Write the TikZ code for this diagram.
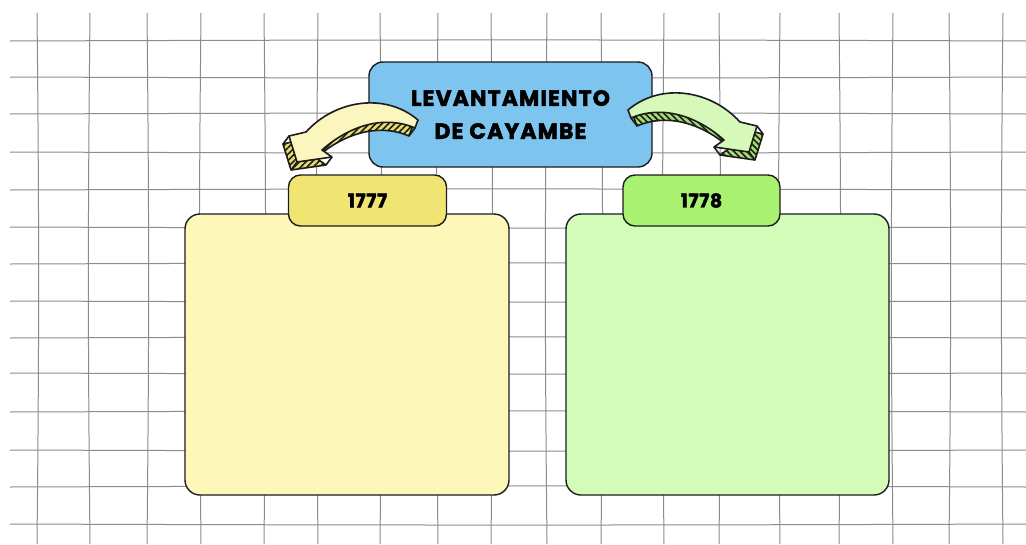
\documentclass[tikz,border=0pt]{standalone}
\usepackage{fontspec}
\newfontfamily\headfont{Poppins}[LetterSpace=5, FakeBold=2.2]
\newfontfamily\yearfont{Poppins}[LetterSpace=3, FakeBold=2]
\usetikzlibrary{patterns.meta}

\definecolor{titleblue}{HTML}{7DC4EE}
\definecolor{tabyellow}{HTML}{F0E473}
\definecolor{boxyellow}{HTML}{FDF7B9}
\definecolor{tabgreen}{HTML}{A9F170}
\definecolor{boxgreen}{HTML}{D3FCB9}
\definecolor{faceyellow}{HTML}{FBF5BE}
\definecolor{sideyellow}{HTML}{E9DD6C}
\definecolor{facegreen}{HTML}{D6F9BA}
\definecolor{sidegreen}{HTML}{A6DE6E}
\definecolor{gridgray}{HTML}{8C8C8C}
\definecolor{inkline}{HTML}{1C1C1C}

\tikzset{
  gridline/.style={draw=gridgray, line width=1pt},
  boxline/.style={draw=inkline, line width=1.4pt},
  bigbox/.style={boxline, rectangle, rounded corners=15pt, minimum width=324pt, minimum height=281pt},
  tab/.style={boxline, rectangle, rounded corners=12pt, minimum width=158pt, minimum height=51pt,
    font=\yearfont\bfseries\fontsize{19}{19}\selectfont},
  titlebox/.style={boxline, rectangle, rounded corners=14pt, fill=titleblue, minimum width=283pt,
    minimum height=105pt, align=center, font=\headfont\bfseries\fontsize{22}{33}\selectfont},
  armline/.style={draw=inkline, line width=1.6pt, line join=round},
  pics/curvearrow/.style n args={3}{code={
    % side of the arrow, hatched
    \draw[armline, preaction={fill=#2}, pattern={Lines[angle=#3, distance=4.5pt, line width=1.6pt]},
      pattern color=inkline, shift={(-6,8)}]
      (0,0) .. controls (-33,-28) and (-83,-20) .. (-112,12) -- (-129,16) -- (-121,42)
      -- (-86,37) -- (-96,30) .. controls (-68,5) and (-33,-5) .. (-3,8) -- cycle;
    \draw[armline] (0,0) -- ++(-6,8) (-3,8) -- ++(-6,8) (-129,16) -- ++(-6,8)
      (-121,42) -- ++(-6,8) (-86,37) -- ++(-6,8);
    % top face
    \draw[armline, fill=#1]
      (0,0) .. controls (-33,-28) and (-83,-20) .. (-112,12) -- (-129,16) -- (-121,42)
      -- (-86,37) -- (-96,30) .. controls (-68,5) and (-33,-5) .. (-3,8) -- cycle;
  }}
}

\begin{document}
\begin{tikzpicture}[x=1pt, y=-1pt]
  \useasboundingbox[fill=white] (0,0) rectangle (1026,544);

  % grid paper
  \foreach \x/\b in {37/0.6, 90/-0.6, 147/0.6, 201/-0.6, 264/0.6, 318/-0.6, 380/0.6, 438/-0.6, 491/0.6,
                     547/-0.6, 601/0.6, 664/-0.6, 719/0.6, 780/-0.6, 839/0.6, 893/-0.6, 949/0.6, 1003/-0.6}
    \draw[gridline] (\x,13) to[bend left=\b] (\x,544);
  \foreach \y/\b in {41/0.2, 77/-0.2, 114/0.2, 152/-0.2, 190/0.2, 227/-0.2, 264/0.2, 301/-0.2, 338/0.2,
                     373/-0.2, 412/0.2, 450/-0.2, 487/0.2, 524/-0.2}
    \draw[gridline] (10,\y) to[bend left=\b] (1026,\y);

  \node[bigbox, fill=boxyellow] (boxA) at (347,354.5) {};
  \node[bigbox, fill=boxgreen, minimum width=323pt] (boxB) at (727.5,354.5) {};
  \node[tab, fill=tabyellow] (yearA) at (367.5,200.5) {1777};
  \node[tab, fill=tabgreen, minimum width=157pt] (yearB) at (701.5,200.5) {1778};
  \node[titlebox] (title) at (510.5,114.5) {LEVANTAMIENTO\\DE CAYAMBE};

  \pic (arrowA) at (418,120) {curvearrow={faceyellow}{sideyellow}{45}};
  \pic[xscale=-1] (arrowB) at (628,110) {curvearrow={facegreen}{sidegreen}{-45}};
\end{tikzpicture}
\end{document}
